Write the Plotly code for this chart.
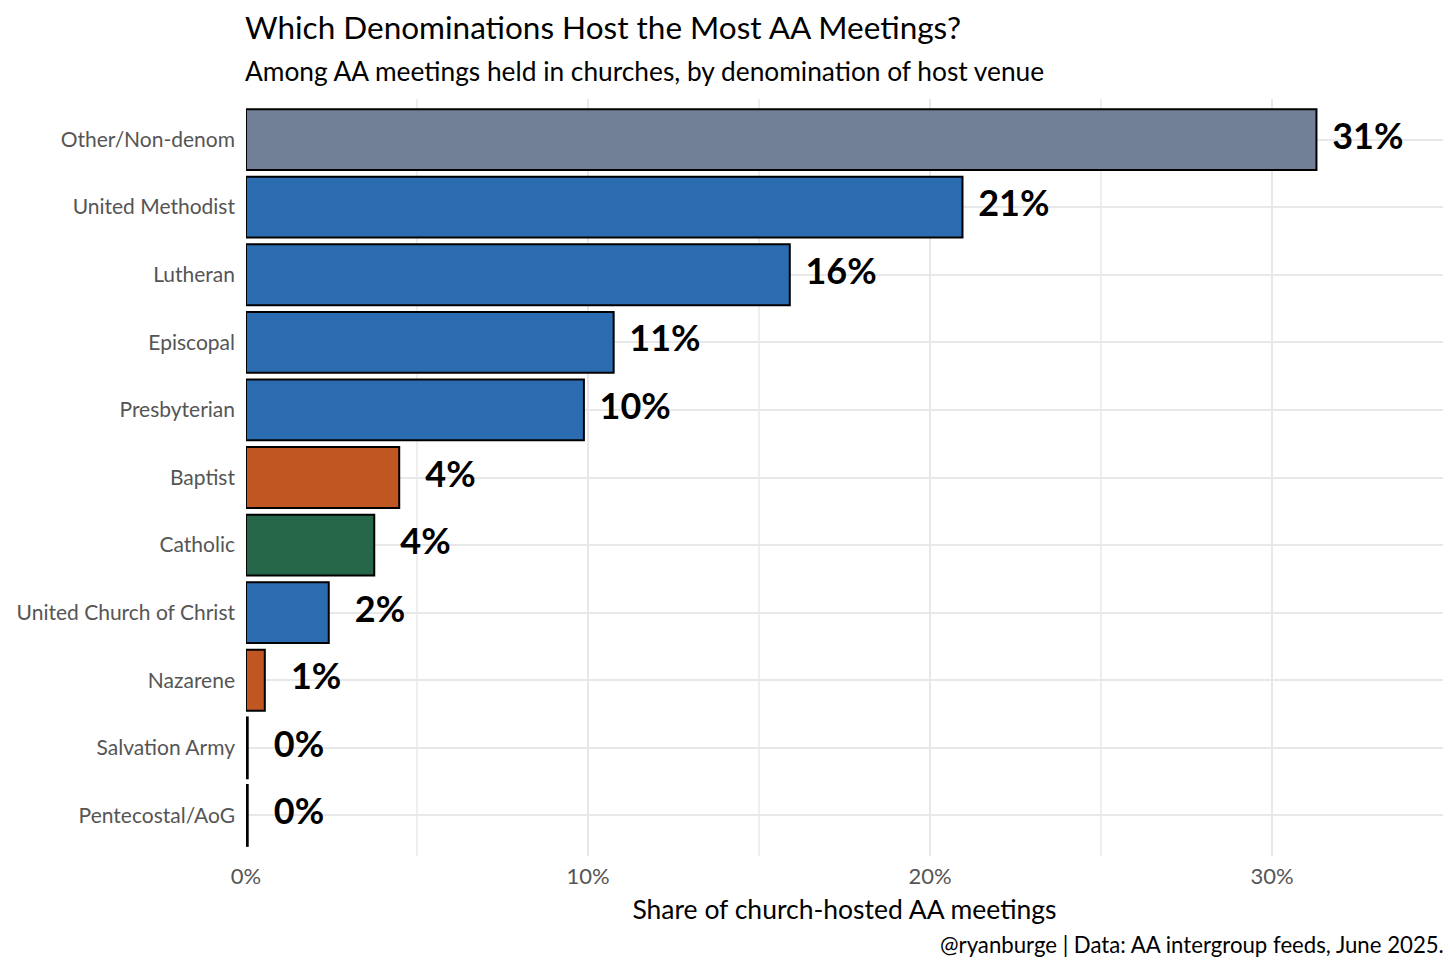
import plotly.graph_objects as go

categories = ["Other/Non-denom", "United Methodist", "Lutheran", "Episcopal", "Presbyterian",
              "Baptist", "Catholic", "United Church of Christ", "Nazarene", "Salvation Army",
              "Pentecostal/AoG"]
values = [31.3, 20.95, 15.9, 10.75, 9.88, 4.48, 3.75, 2.42, 0.55, 0.05, 0.05]
labels = ["31%", "21%", "16%", "11%", "10%", "4%", "4%", "2%", "1%", "0%", "0%"]
colors = ["#718096", "#2B6CB0", "#2B6CB0", "#2B6CB0", "#2B6CB0", "#C05621", "#276749",
          "#2B6CB0", "#C05621", "#2B6CB0", "#2B6CB0"]
x_ticks = [0, 10, 20, 30]
x_tick_labels = ["0%", "10%", "20%", "30%"]

FONT = "Lato, sans-serif"
# page body has an 8px margin, so the figure is drawn 8px smaller and offset
OFF = 8
W, HT = 1456 - OFF, 970 - OFF
PLOT_LEFT, PLOT_RIGHT = 246 - OFF, 1443 - OFF
PLOT_TOP, PLOT_BOTTOM = 99 - OFF, 856 - OFF
H = PLOT_BOTTOM - PLOT_TOP


def py(page_y):
    return (PLOT_BOTTOM - (page_y - OFF)) / H


fig = go.Figure()
fig.add_trace(go.Bar(
    y=categories, x=values, orientation="h",
    marker=dict(color=colors, line=dict(color="black", width=2)),
    width=0.9, hoverinfo="skip",
))
fig.add_trace(go.Scatter(
    y=categories, x=[v + 1.5 for v in values], mode="text", text=labels,
    textposition="middle center",
    textfont=dict(family=FONT, size=36, color="black", weight="bold"),
    hoverinfo="skip",
))

fig.update_layout(
    width=W, height=HT,
    paper_bgcolor="white", plot_bgcolor="white",
    margin=dict(l=PLOT_LEFT, r=W - PLOT_RIGHT, t=PLOT_TOP, b=HT - PLOT_BOTTOM),
    showlegend=False,
    font=dict(family=FONT, color="#222"),
    xaxis=dict(
        range=[0, 35], tickvals=x_ticks, ticktext=x_tick_labels,
        showgrid=True, gridcolor="#e8e8e8", gridwidth=2,
        minor=dict(tickvals=[5, 15, 25], showgrid=True, gridcolor="#eeeeee", gridwidth=1.5),
        zeroline=False, showline=False, ticks="", automargin=False,
        ticklabelstandoff=5,
        tickfont=dict(family=FONT, size=22, color="#555"),
        title=dict(text="Share of church-hosted AA meetings", standoff=12,
                   font=dict(family=FONT, size=26.5, color="black")),
    ),
    yaxis=dict(
        categoryorder="array", categoryarray=categories,
        range=[10.6, -0.6], autorange=False,
        showgrid=True, gridcolor="#e8e8e8", gridwidth=2,
        zeroline=False, showline=False, ticks="", automargin=False,
        ticklabelstandoff=10,
        tickfont=dict(family=FONT, size=21, color="#555"),
    ),
    annotations=[
        dict(text="Which Denominations Host the Most AA Meetings?",
             xref="paper", yref="paper", x=0, y=py(27), xanchor="left", yanchor="middle",
             xshift=-3, showarrow=False, font=dict(family=FONT, size=31.5, color="black")),
        dict(text="Among AA meetings held in churches, by denomination of host venue",
             xref="paper", yref="paper", x=0, y=py(71), xanchor="left", yanchor="middle",
             xshift=-3, showarrow=False, font=dict(family=FONT, size=26.3, color="black")),
        dict(text="@ryanburge | Data: AA intergroup feeds, June 2025.",
             xref="paper", yref="paper", x=1, y=py(944), xanchor="right", yanchor="middle",
             xshift=3, showarrow=False, font=dict(family=FONT, size=22.2, color="black")),
    ],
)

fig.write_html("out.html")
